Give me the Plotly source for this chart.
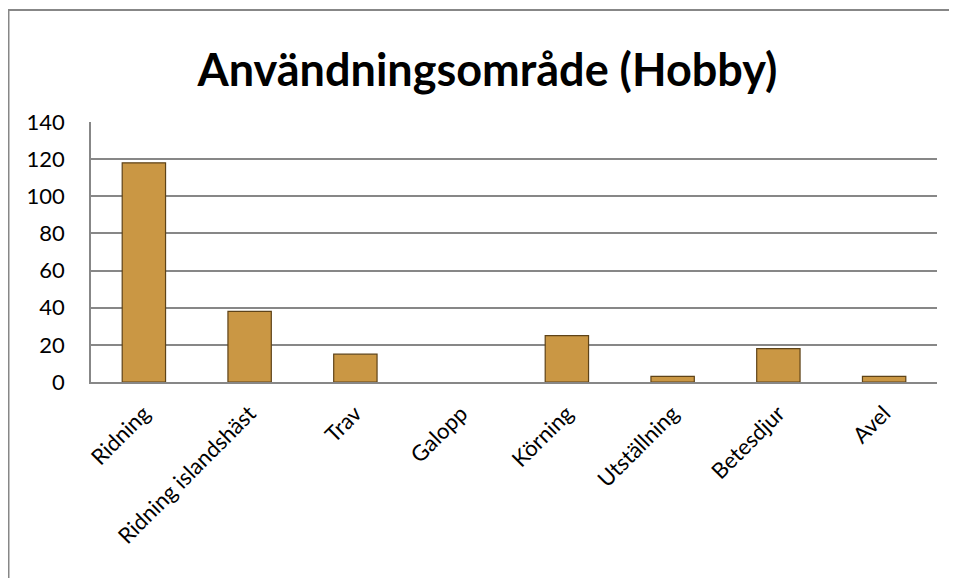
import plotly.graph_objects as go

FONT = "Lato, Calibri, sans-serif"

categories = ["Ridning", "Ridning islandshäst", "Trav", "Galopp",
              "Körning", "Utställning", "Betesdjur", "Avel"]
values = [118, 38, 15, 0, 25, 3, 18, 3]
y_ticks = [0, 20, 40, 60, 80, 100, 120, 140]

fig = go.Figure()
fig.add_trace(go.Bar(
    x=categories,
    y=values,
    marker=dict(color="#CA9744",
                line=dict(color="#5E4318",
                          width=[1.2 if v > 0 else 0 for v in values])),
    width=0.41,
    showlegend=False,
))

# outer chart border (cut off at right/bottom like the reference)
fig.add_shape(type="rect", xref="paper", yref="paper",
              x0=(8.5 - 91) / 846, x1=1.2, y0=-1.0, y1=(382 - 10) / 260,
              line=dict(color="#878787", width=2), layer="below")

# page body adds 8px, margins are set so the plot area lands at 91..937 / 122..382
fig.update_layout(
    width=957, height=578,
    margin=dict(l=83, r=28, t=114, b=204, autoexpand=False),
    paper_bgcolor="white",
    plot_bgcolor="white",
    font=dict(family=FONT, size=22, color="black"),
    title=dict(text="<b>Användningsområde (Hobby)</b>",
               font=dict(family=FONT, size=45, color="black"),
               x=0.501, xanchor="center", y=0.893, yanchor="middle",
               automargin=False),
)
fig.update_xaxes(tickangle=-45, showline=True, linecolor="#878787", linewidth=2,
                 showgrid=False, ticks="", tickfont=dict(size=22),
                 ticklabelstandoff=8, automargin=False)
fig.update_yaxes(range=[0, 140], tickvals=y_ticks, showgrid=True,
                 gridcolor="#878787", gridwidth=1.5, zeroline=False,
                 showline=True, linecolor="#878787", linewidth=1.5, ticks="",
                 ticklabelstandoff=20, tickfont=dict(size=22), automargin=False)

fig.write_html("out.html")
